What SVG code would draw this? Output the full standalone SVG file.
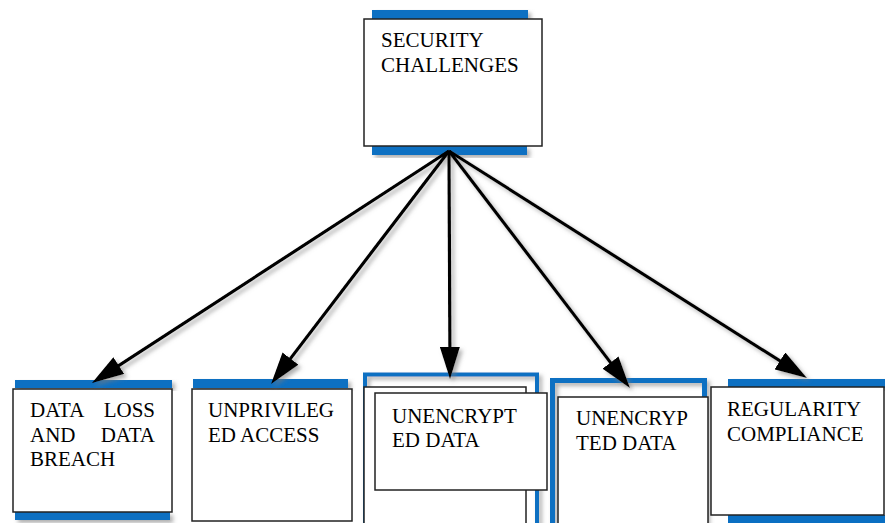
<svg xmlns="http://www.w3.org/2000/svg" width="885" height="523" viewBox="0 0 885 523">
  <style>
    .bar { fill: #0a6fc2; }
    .frame { fill: none; stroke: #0a6fc2; }
    .box { fill: #ffffff; stroke: #222222; stroke-width: 1.5; }
    .lbl { font-family: 'Liberation Serif', 'Times New Roman', Times, serif; font-size: 21px; fill: #000000; }
    .link { stroke: #000000; stroke-width: 3.2; fill: none; marker-end: url(#head); }
  </style>
  <defs>
    <filter id="shade" x="-10%" y="-10%" width="130%" height="140%">
      <feDropShadow dx="3" dy="3" stdDeviation="2" flood-color="#7a7a7a" flood-opacity="0.6"/>
    </filter>
    <marker id="head" viewBox="0 0 32 20" refX="24" refY="10" markerWidth="32" markerHeight="20" markerUnits="userSpaceOnUse" orient="auto">
      <path d="M0,0 L32,10 L0,20 Z" fill="#000000"/>
    </marker>
  </defs>

  <rect width="885" height="523" fill="#ffffff"/>

  <!-- root node -->
  <g id="security-challenges">
    <rect class="bar" x="372" y="10" width="156" height="9" filter="url(#shade)"/>
    <rect class="bar" x="372" y="146" width="155" height="9" filter="url(#shade)"/>
    <rect class="box" x="364" y="19" width="178" height="127"/>
    <text class="lbl" x="381" y="47">SECURITY</text>
    <text class="lbl" x="381" y="72">CHALLENGES</text>
  </g>

  <!-- child nodes -->
  <g id="data-loss">
    <rect class="bar" x="15" y="380" width="157" height="8" filter="url(#shade)"/>
    <rect class="bar" x="15" y="512" width="155" height="8" filter="url(#shade)"/>
    <rect class="box" x="13" y="389" width="159" height="123"/>
    <text class="lbl" x="30" y="417">DATA</text>
    <text class="lbl" x="155" y="417" text-anchor="end">LOSS</text>
    <text class="lbl" x="30" y="442">AND</text>
    <text class="lbl" x="155" y="442" text-anchor="end">DATA</text>
    <text class="lbl" x="30" y="466">BREACH</text>
  </g>

  <g id="unprivileged-access">
    <rect class="bar" x="193" y="379" width="155" height="9" filter="url(#shade)"/>
    <rect class="box" x="192" y="389" width="160" height="132"/>
    <text class="lbl" x="208" y="417">UNPRIVILEG</text>
    <text class="lbl" x="208" y="442">ED ACCESS</text>
  </g>

  <g id="unencrypted-data-a">
    <rect class="frame" x="365" y="374.5" width="172" height="152" stroke-width="4" filter="url(#shade)"/>
    <rect class="box" x="364" y="387" width="162" height="140"/>
    <rect class="box" x="375" y="393" width="172" height="97"/>
    <text class="lbl" x="392" y="423">UNENCRYPT</text>
    <text class="lbl" x="392" y="447">ED DATA</text>
  </g>

  <g id="unencrypted-data-b">
    <rect class="frame" x="552.5" y="380.5" width="152" height="146" stroke-width="5" filter="url(#shade)"/>
    <rect class="box" x="558" y="397" width="150" height="130"/>
    <text class="lbl" x="576" y="425">UNENCRYP</text>
    <text class="lbl" x="576" y="450">TED DATA</text>
  </g>

  <g id="regularity-compliance">
    <rect class="bar" x="728" y="379" width="157" height="9" filter="url(#shade)"/>
    <rect class="bar" x="728" y="515" width="157" height="8"/>
    <rect class="box" x="711" y="387" width="173" height="128"/>
    <text class="lbl" x="727" y="416">REGULARITY</text>
    <text class="lbl" x="727" y="441">COMPLIANCE</text>
  </g>

  <!-- connectors fan out from the root's lower edge -->
  <g id="connectors" filter="url(#shade)">
    <line class="link" x1="449" y1="151" x2="98.7" y2="378.6"/>
    <line class="link" x1="449" y1="151" x2="275.9" y2="377.6"/>
    <line class="link" x1="449" y1="151" x2="450" y2="371"/>
    <line class="link" x1="449" y1="151" x2="625.1" y2="381.6"/>
    <line class="link" x1="449" y1="151" x2="800.2" y2="373.7"/>
  </g>
</svg>
